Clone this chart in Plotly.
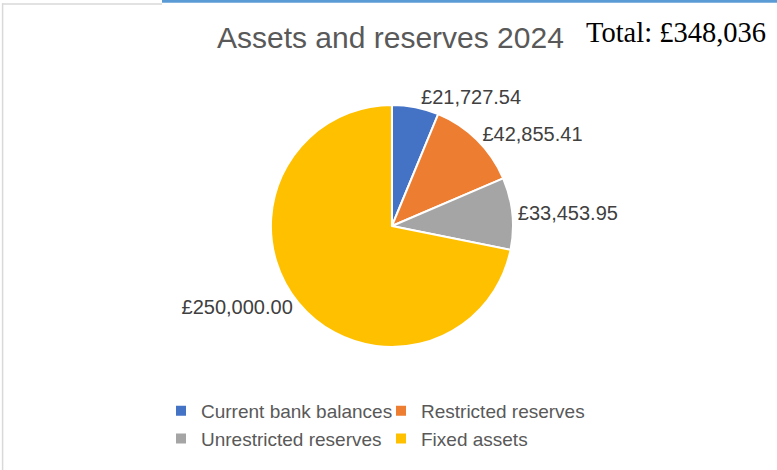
import plotly.graph_objects as go

categories = ["Current bank balances", "Restricted reserves", "Unrestricted reserves", "Fixed assets"]
values = [21727.54, 42855.41, 33453.95, 250000.00]
colors = ["#4472C4", "#ED7D31", "#A5A5A5", "#FFC000"]
title_text = "Assets and reserves 2024"
total_text = "Total: £348,036"

W, H = 777, 470
ML, MR = 150, 147
PW = W - ML - MR


def px(x):
    return (x - ML) / PW


def py(y):
    return 1 - y / H


fig = go.Figure(go.Pie(
    labels=categories,
    values=values,
    sort=False,
    direction="clockwise",
    rotation=0,
    marker=dict(colors=colors, line=dict(color="white", width=2)),
    textposition="outside",
    texttemplate="£%{value:,.2f}",
    textfont=dict(family="Liberation Sans, Arial", size=20, color="#404040"),
    domain=dict(x=[0.2, 0.808], y=[py(347), py(105)]),
    hoverinfo="label+value",
))

fig.update_layout(
    width=W, height=H,
    margin=dict(l=ML, r=MR, t=0, b=0),
    paper_bgcolor="white",
    plot_bgcolor="white",
    font=dict(family="Liberation Sans, Arial", color="#595959"),
    showlegend=True,
    legend=dict(
        orientation="h",
        entrywidth=175, entrywidthmode="pixels",
        x=px(161), xanchor="left",
        y=py(392), yanchor="top",
        font=dict(family="Liberation Sans, Arial", size=19, color="#595959"),
        bgcolor="rgba(0,0,0,0)",
    ),
    annotations=[
        dict(text=title_text, x=px(390), y=py(37.5), xref="paper", yref="paper",
             xanchor="center", yanchor="middle", showarrow=False,
             font=dict(family="Liberation Sans, Arial", size=30, color="#595959")),
        dict(text=total_text, x=px(584), y=py(32.5), xref="paper", yref="paper",
             xanchor="left", yanchor="middle", showarrow=False,
             font=dict(family="Liberation Serif, Times New Roman", size=28.5, color="#000000")),
    ],
    shapes=[
        dict(type="rect", xref="paper", yref="paper", x0=px(162), x1=px(777), y0=py(0), y1=py(2.8),
             fillcolor="#5B9BD5", line=dict(width=0), layer="above"),
        dict(type="line", xref="paper", yref="paper", x0=px(2), x1=px(162), y0=py(4), y1=py(4),
             line=dict(color="#D9D9D9", width=1.5), layer="above"),
        dict(type="line", xref="paper", yref="paper", x0=px(2.6), x1=px(2.6), y0=py(3.3), y1=py(470),
             line=dict(color="#D9D9D9", width=1.5), layer="above"),
    ],
)

fig.write_html("out.html", config={"displayModeBar": False},
               post_script="document.body.style.margin='0';")
